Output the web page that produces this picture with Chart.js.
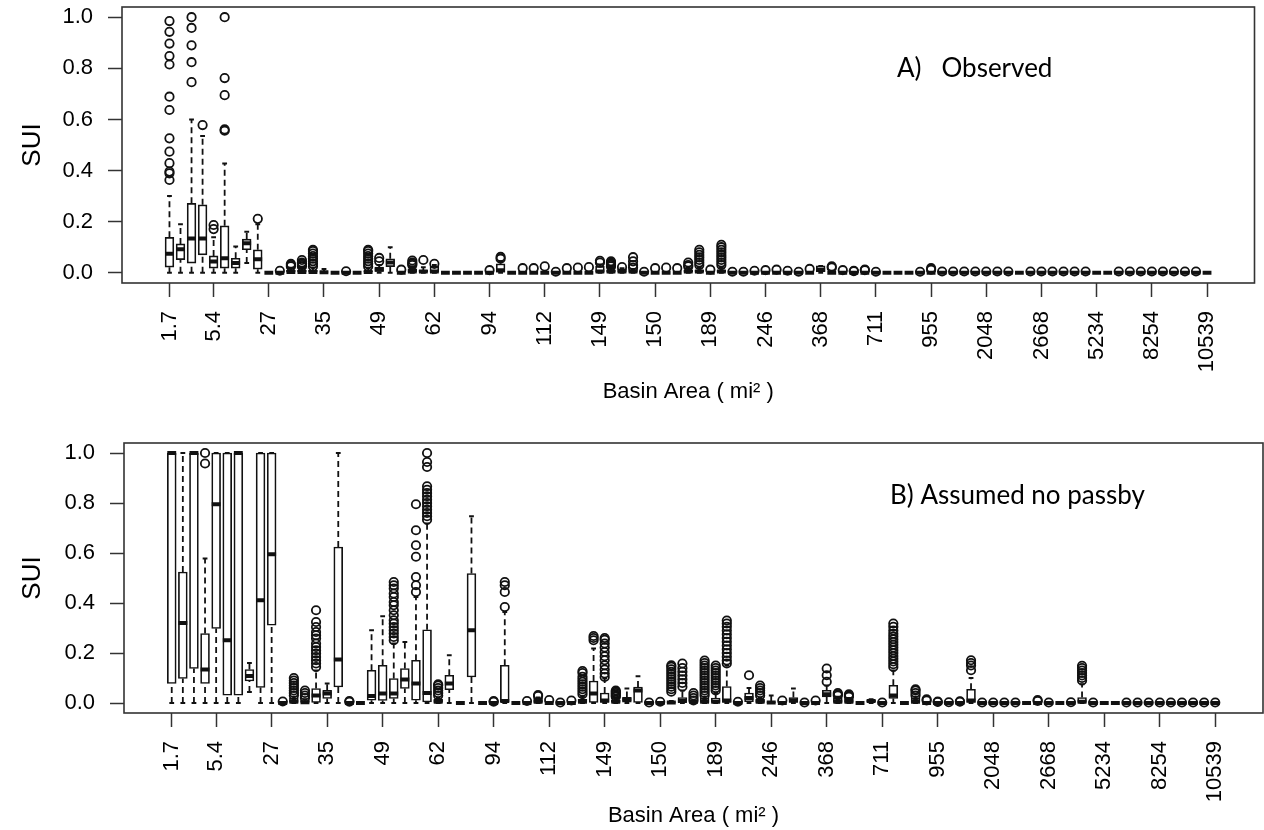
<!DOCTYPE html>
<html>
<head>
<meta charset="utf-8">
<script src="https://cdn.jsdelivr.net/npm/chart.js@4.4.1/dist/chart.umd.min.js"></script>
<style>
  body { margin: 0; background: #fff; width: 1264px; height: 830px; overflow: hidden; }
  .panel { position: absolute; left: 0; width: 1264px; height: 415px; }
</style>
</head>
<body>
<div class="panel" style="top:0"><canvas id="obsChart"></canvas></div>
<div class="panel" style="top:415px"><canvas id="npChart"></canvas></div>
<script>
// basin positions that get a label on the x axis
const xTickPos = [1, 5, 10, 15, 20, 25, 30, 35, 40, 45, 50, 55, 60, 65, 70, 75, 80, 85, 90, 95];
const xTickLabels = ["1.7", "5.4", "27", "35", "49", "62", "94", "112", "149", "150",
  "189", "246", "368", "711", "955", "2048", "2668", "5234", "8254", "10539"];
const yTickVals = [0, 0.2, 0.4, 0.6, 0.8, 1.0];

// A) Observed -- 95 basins, box stats
const obsLo = [
  0, 0, 0, 0, 0, 0, 0, 0.038, 0, 0,
  0, 0, 0, 0, 0, 0, 0, 0, 0, 0,
  0, 0, 0, 0, 0, 0, 0, 0, 0, 0,
  0, 0, 0, 0, 0, 0, 0, 0, 0, 0,
  0, 0, 0, 0, 0, 0, 0, 0, 0, 0,
  0, 0, 0, 0, 0, 0, 0, 0, 0, 0,
  0, 0, 0, 0, 0, 0, 0, 0, 0, 0,
  0, 0, 0, 0, 0, 0, 0, 0, 0, 0,
  0, 0, 0, 0, 0, 0, 0, 0, 0, 0,
  0, 0, 0, 0, 0];
const obsQ1 = [
  0.022, 0.051, 0.038, 0.07, 0.018, 0.018, 0.018, 0.09, 0.014, 0,
  0, 0, 0, 0, 0, 0, 0, 0, 0, 0.005,
  0.024, 0, 0, 0, 0, 0, 0, 0, 0, 0,
  0, 0, 0, 0, 0, 0, 0, 0, 0, 0,
  0, 0, 0, 0, 0, 0, 0, 0, 0, 0,
  0, 0, 0, 0, 0, 0, 0, 0, 0, 0.004,
  0, 0, 0, 0, 0, 0, 0, 0, 0, 0,
  0, 0, 0, 0, 0, 0, 0, 0, 0, 0,
  0, 0, 0, 0, 0, 0, 0, 0, 0, 0,
  0, 0, 0, 0, 0];
const obsMed = [
  0.074, 0.092, 0.134, 0.134, 0.044, 0.057, 0.038, 0.116, 0.053, 0,
  0, 0.003, 0.003, 0.003, 0.002, 0, 0, 0, 0.003, 0.012,
  0.04, 0, 0.005, 0.005, 0.005, 0, 0, 0, 0, 0,
  0.01, 0, 0, 0, 0, 0, 0, 0, 0, 0.005,
  0.005, 0.005, 0.005, 0, 0, 0, 0, 0.005, 0.005, 0,
  0.005, 0, 0, 0, 0, 0, 0, 0, 0, 0.012,
  0, 0, 0, 0, 0, 0, 0, 0, 0, 0,
  0, 0, 0, 0, 0, 0, 0, 0, 0, 0,
  0, 0, 0, 0, 0, 0, 0, 0, 0, 0,
  0, 0, 0, 0, 0];
const obsQ3 = [
  0.139, 0.113, 0.272, 0.266, 0.066, 0.184, 0.057, 0.132, 0.09, 0,
  0, 0.01, 0.01, 0.01, 0.004, 0, 0, 0, 0.008, 0.022,
  0.055, 0, 0.015, 0.01, 0.025, 0, 0, 0, 0, 0,
  0.035, 0, 0, 0, 0, 0, 0, 0, 0, 0.025,
  0.01, 0.015, 0.012, 0, 0, 0, 0, 0.01, 0.01, 0,
  0.01, 0, 0, 0, 0, 0, 0, 0, 0, 0.027,
  0, 0, 0, 0, 0, 0, 0, 0, 0, 0,
  0, 0, 0, 0, 0, 0, 0, 0, 0, 0,
  0, 0, 0, 0, 0, 0, 0, 0, 0, 0,
  0, 0, 0, 0, 0];
const obsHi = [
  0.30, 0.19, 0.60, 0.535, 0.139, 0.428, 0.103, 0.161, 0.19, 0,
  0, 0.02, 0.02, 0.02, 0.015, 0, 0, 0, 0.018, 0.03,
  0.10, 0, 0.025, 0.022, 0.03, 0, 0, 0, 0, 0,
  0.045, 0, 0, 0, 0, 0, 0, 0, 0, 0.032,
  0.02, 0.018, 0.015, 0, 0, 0, 0, 0.02, 0.02, 0,
  0.02, 0, 0, 0, 0, 0, 0, 0, 0, 0.027,
  0, 0, 0, 0, 0, 0, 0, 0, 0, 0,
  0, 0, 0, 0, 0, 0, 0, 0, 0, 0,
  0, 0, 0, 0, 0, 0, 0, 0, 0, 0,
  0, 0, 0, 0, 0];
const obsOut = [
  [0.985, 0.943, 0.897, 0.848, 0.815, 0.689, 0.637, 0.526, 0.474, 0.429, 0.396, 0.389, 0.363], // 1
  [], [1.0, 0.958, 0.89, 0.824, 0.746], [0.578], [0.171, 0.187],
  [1.0, 0.762, 0.695, 0.561, 0.556], [], [], [0.211], [],                    // 6-10
  [0.008], [0.025, 0.03, 0.035], [0.025, 0.03, 0.035, 0.04, 0.05],
  [0.025, 0.035, 0.045, 0.055, 0.065, 0.075, 0.085, 0.09], [], [], [0.006], [],
  [0.025, 0.035, 0.045, 0.055, 0.065, 0.075, 0.085, 0.09], [0.045, 0.058],  // 19-20
  [], [0.012], [0.03, 0.035, 0.04, 0.048], [0.05], [0.035], [], [], [], [], [0.01], // 21-30
  [0.055, 0.062], [], [0.018], [0.018], [0.025], [0.004], [0.018], [0.02], [0.022],
  [0.04, 0.047],                                                             // 40
  [0.025, 0.03, 0.035, 0.04, 0.045], [0.022], [0.02, 0.03, 0.045, 0.061], [0.004],
  [0.018], [0.02], [0.018], [0.025, 0.03, 0.04],
  [0.03, 0.04, 0.05, 0.06, 0.07, 0.08, 0.09], [0.012],                       // 49-50
  [0.03, 0.04, 0.05, 0.06, 0.07, 0.08, 0.09, 0.1, 0.109], [0.004], [0.004], [0.008],
  [0.01], [0.012], [0.008], [0.004], [0.015], [],                            // 51-60
  [0.02, 0.025], [0.01], [0.006, 0.008], [0.01, 0.012], [0.004], [], [], [], [0.004],
  [0.012, 0.018],                                                            // 61-70
  [0.005], [0.005], [0.005], [0.005], [0.005], [0.005], [0.005], [], [0.005], [0.005],
  [0.005], [0.005], [0.005], [0.005], [], [], [0.005], [0.005], [0.005], [0.005],
  [0.005], [0.005], [0.005], [0.005], []                                     // 91-95
];

// B) Assumed no passby
const npLo = [
  0, 0, 0, 0, 0, 0, 0, 0.044, 0, 0,
  0, 0, 0, 0, 0, 0, 0, 0, 0, 0,
  0, 0, 0, 0, 0, 0, 0, 0, 0, 0,
  0, 0, 0, 0, 0, 0, 0, 0, 0, 0,
  0, 0, 0, 0, 0, 0, 0, 0, 0, 0,
  0, 0, 0, 0, 0, 0, 0, 0, 0, 0,
  0, 0, 0, 0, 0, 0, 0, 0, 0, 0,
  0, 0, 0, 0, 0, 0, 0, 0, 0, 0,
  0, 0, 0, 0, 0, 0, 0, 0, 0, 0,
  0, 0, 0, 0, 0];
const npQ1 = [
  0.078, 0.098, 0.138, 0.078, 0.298, 0.031, 0.031, 0.088, 0.062, 0.311,
  0, 0, 0, 0, 0.018, 0.064, 0, 0, 0.011, 0.01,
  0.018, 0.058, 0.011, 0.004, 0, 0.053, 0, 0.104, 0, 0,
  0.004, 0, 0, 0, 0, 0, 0, 0, 0, 0,
  0, 0.003, 0, 0, 0, 0, 0, 0, 0, 0,
  0, 0, 0.005, 0, 0, 0, 0, 0, 0, 0.024,
  0, 0, 0, 0.005, 0, 0.018, 0, 0, 0, 0,
  0, 0, 0, 0, 0, 0, 0, 0, 0, 0,
  0, 0, 0, 0, 0, 0, 0, 0, 0, 0,
  0, 0, 0, 0, 0];
const npMed = [
  1.0, 0.32, 1.0, 0.134, 0.795, 0.251, 1.0, 0.108, 0.411, 0.595,
  0, 0.005, 0.003, 0.03, 0.038, 0.174, 0, 0, 0.028, 0.038,
  0.038, 0.094, 0.078, 0.04, 0.005, 0.078, 0, 0.291, 0, 0,
  0.008, 0, 0, 0.005, 0, 0, 0, 0.005, 0.038, 0.01,
  0.005, 0.016, 0.05, 0, 0, 0.002, 0.008, 0.005, 0.005, 0.005,
  0.01, 0, 0.02, 0.005, 0.002, 0, 0.01, 0, 0, 0.035,
  0.005, 0.005, 0, 0.008, 0, 0.03, 0, 0.005, 0, 0,
  0, 0, 0.01, 0, 0, 0, 0, 0, 0, 0,
  0, 0, 0.005, 0, 0, 0, 0, 0, 0, 0,
  0, 0, 0, 0, 0];
const npQ3 = [
  1.0, 0.524, 1.0, 0.278, 1.0, 1.0, 1.0, 0.134, 1.0, 1.0,
  0, 0.02, 0.01, 0.058, 0.051, 0.624, 0, 0, 0.131, 0.151,
  0.098, 0.138, 0.171, 0.293, 0.015, 0.111, 0, 0.518, 0, 0,
  0.151, 0, 0, 0.02, 0, 0, 0, 0.015, 0.088, 0.04,
  0.012, 0.022, 0.064, 0, 0, 0.005, 0.022, 0.01, 0.02, 0.02,
  0.066, 0, 0.04, 0.015, 0.005, 0, 0.022, 0, 0, 0.051,
  0.02, 0.015, 0, 0.012, 0, 0.071, 0, 0.02, 0, 0,
  0, 0, 0.055, 0, 0, 0, 0, 0, 0, 0,
  0, 0, 0.022, 0, 0, 0, 0, 0, 0, 0,
  0, 0, 0, 0, 0];
const npHi = [
  1.0, 1.0, 1.0, 0.578, 1.0, 1.0, 1.0, 0.16, 1.0, 1.0,
  0, 0.025, 0.015, 0.13, 0.078, 1.0, 0, 0, 0.291, 0.347,
  0.238, 0.244, 0.424, 0.718, 0.02, 0.191, 0, 0.747, 0, 0,
  0.364, 0, 0, 0.022, 0, 0, 0, 0.025, 0.218, 0.098,
  0.02, 0.058, 0.107, 0, 0, 0.008, 0.05, 0.008, 0.025, 0.04,
  0.15, 0, 0.06, 0.02, 0.03, 0, 0.058, 0, 0, 0.07,
  0.025, 0.02, 0, 0.015, 0, 0.13, 0, 0.025, 0, 0,
  0, 0, 0.1, 0, 0, 0, 0, 0, 0, 0,
  0, 0, 0.075, 0, 0, 0, 0, 0, 0, 0,
  0, 0, 0, 0, 0];
const npOut = [
  [], [], [], [0.958, 1.0], [], [], [], [], [], [],                          // 1-10
  [0.006], [0.03, 0.04, 0.05, 0.06, 0.07, 0.08, 0.09, 0.1], [0.02, 0.03, 0.04, 0.05],
  [0.144, 0.158, 0.171, 0.184, 0.198, 0.211, 0.224, 0.238, 0.258, 0.271, 0.284, 0.304, 0.324, 0.371],
  [], [], [0.005, 0.008], [], [], [],                                        // 15-20
  [0.251, 0.264, 0.278, 0.291, 0.304, 0.318, 0.331, 0.351, 0.371, 0.391, 0.404, 0.424, 0.438, 0.458, 0.471, 0.484],
  [], [0.444, 0.471, 0.504, 0.585, 0.631, 0.691, 0.795],
  [0.733, 0.747, 0.76, 0.773, 0.787, 0.8, 0.813, 0.827, 0.84, 0.853, 0.867, 0.944, 0.964, 1.0],
  [0.03, 0.04, 0.05, 0.06, 0.07, 0.075], [], [], [], [], [0.005, 0.008],     // 25-30
  [0.384, 0.444, 0.471, 0.484], [], [0.008], [0.028, 0.032], [0.012], [0.002], [0.01],
  [0.035, 0.045, 0.055, 0.065, 0.075, 0.085, 0.095, 0.105, 0.12, 0.128],
  [0.251, 0.26, 0.268],
  [0.104, 0.118, 0.134, 0.151, 0.171, 0.187, 0.204, 0.222, 0.238, 0.253, 0.26], // 40
  [0.025, 0.03, 0.035, 0.04, 0.045, 0.05], [], [], [0.002], [0.005],
  [0.045, 0.055, 0.065, 0.075, 0.085, 0.095, 0.105, 0.115, 0.125, 0.135, 0.145, 0.151],
  [0.065, 0.08, 0.095, 0.11, 0.125, 0.14, 0.158], [0.01, 0.02, 0.03, 0.04],
  [0.03, 0.04, 0.05, 0.06, 0.07, 0.08, 0.09, 0.1, 0.11, 0.12, 0.13, 0.14, 0.15, 0.16, 0.17],
  [0.05, 0.06, 0.07, 0.08, 0.09, 0.1, 0.11, 0.12, 0.13, 0.14, 0.15],        // 50
  [0.158, 0.17, 0.185, 0.2, 0.215, 0.23, 0.245, 0.26, 0.275, 0.29, 0.305, 0.318, 0.33],
  [0.005], [0.111], [0.03, 0.04, 0.05, 0.06, 0.07], [], [0.01], [], [0.002], [0.01],
  [0.085, 0.111, 0.138],                                                     // 60
  [0.03, 0.035, 0.04], [0.025, 0.03, 0.035], [], [], [0.002],
  [0.144, 0.155, 0.166, 0.177, 0.188, 0.2, 0.211, 0.222, 0.233, 0.244, 0.255, 0.266, 0.277, 0.29, 0.305, 0.318],
  [], [0.03, 0.04, 0.05, 0.055], [0.01, 0.015], [0.004, 0.006],              // 67-70
  [0.003], [0.005, 0.007], [0.131, 0.15, 0.16, 0.171], [0.002], [0.002], [0.002],
  [0.002], [], [0.008, 0.012], [0.002],                                      // 71-80
  [], [0.003], [0.09, 0.1, 0.11, 0.12, 0.13, 0.14, 0.149], [0.002], [], [],
  [0.002], [0.002], [0.002], [0.002],                                        // 81-90
  [0.002], [0.002], [0.002], [0.002], [0.002]                                // 91-95
];

const INK = "#111";
const tickFont = { family: "'Liberation Sans', Arial, sans-serif", size: 22 };

function boxDatasets(lo, q1, med, q3, hi, out, boxW) {
  const boxes = [], meds = [], caps = [], whisk = [], pts = [];
  med.forEach((m, k) => {
    const x = k + 1;
    boxes.push({ x: x, y: [q1[k], q3[k]] });
    meds.push({ x: x, y: m });
    caps.push({ x: x, y: hi[k] }, { x: x, y: lo[k] });
    if (hi[k] > q3[k]) whisk.push({ x: x, y: q3[k] }, { x: x, y: hi[k] }, { x: x, y: null });
    if (lo[k] < q1[k]) whisk.push({ x: x, y: lo[k] }, { x: x, y: q1[k] }, { x: x, y: null });
    out[k].forEach((v) => pts.push({ x: x, y: v }));
  });
  return [
    { type: "line", data: whisk, borderColor: INK, borderWidth: 1.8, borderDash: [6, 4],
      pointRadius: 0, spanGaps: false, order: 5 },
    { type: "bar", data: boxes, backgroundColor: "#fff", borderColor: INK, borderWidth: 1.7,
      borderSkipped: false, barThickness: boxW, order: 4 },
    { type: "scatter", data: caps, pointStyle: "line", pointRadius: 2.4, borderWidth: 2,
      borderColor: INK, order: 3 },
    { type: "scatter", data: meds, pointStyle: "line", pointRadius: boxW / 2, borderWidth: 4,
      borderColor: INK, order: 2 },
    { type: "scatter", data: pts, pointStyle: "circle", pointRadius: 4.2, borderWidth: 1.8,
      borderColor: INK, backgroundColor: "rgba(0,0,0,0)", order: 1 },
  ];
}

const framePlugin = {
  id: "frame",
  afterDraw(chart) {
    const { ctx, chartArea: a } = chart;
    ctx.save();
    ctx.strokeStyle = "#333";
    ctx.lineWidth = 1.6;
    ctx.strokeRect(a.left, a.top, a.right - a.left, a.bottom - a.top);
    const note = chart.options.plugins.note;
    ctx.fillStyle = "#000";
    ctx.font = "26px Lato, 'Open Sans', sans-serif";
    ctx.textBaseline = "alphabetic";
    ctx.fillText(note.text, note.x, note.y);
    ctx.restore();
  },
};

function makePanel(canvasId, sets, layout, note) {
  return new Chart(document.getElementById(canvasId), {
    type: "bar",
    data: { datasets: sets },
    plugins: [framePlugin],
    options: {
      responsive: true,
      maintainAspectRatio: false,
      animation: false,
      events: [],
      layout: { autoPadding: false, padding: { top: layout.top, right: layout.right, left: 0, bottom: 0 } },
      plugins: { legend: { display: false }, tooltip: { enabled: false }, note: note },
      scales: {
        x: {
          type: "linear",
          min: -3.3,
          max: 99.3,
          offset: false,
          afterBuildTicks: (s) => { s.ticks = xTickPos.map((v) => ({ value: v })); },
          afterFit: (s) => {
            s.height = layout.xAxisH;
            s.paddingLeft = 0;
            s.paddingRight = 0;
          },
          ticks: {
            autoSkip: false, minRotation: 90, maxRotation: 90, padding: 14,
            color: "#000", font: tickFont,
            callback: (v) => xTickLabels[xTickPos.indexOf(v)],
          },
          grid: { offset: false, drawOnChartArea: false, drawTicks: true, tickLength: 14, tickWidth: 1.5, tickColor: "#333" },
          border: { display: false },
          title: {
            display: true, text: "Basin Area ( mi² )", color: "#000",
            font: { family: "'Liberation Sans', Arial, sans-serif", size: 22 },
            padding: { top: 0, bottom: layout.titlePad },
          },
        },
        y: {
          min: -0.04,
          max: 1.04,
          afterBuildTicks: (s) => { s.ticks = yTickVals.map((v) => ({ value: v })); },
          afterFit: (s) => {
            s.width = layout.yAxisW;
            s.paddingTop = 0;
            s.paddingBottom = 0;
          },
          ticks: { padding: 15, color: "#000", font: tickFont, callback: (v) => v.toFixed(1) },
          grid: { drawOnChartArea: false, drawTicks: true, tickLength: 14, tickWidth: 1.5, tickColor: "#333" },
          border: { display: false },
          title: {
            display: true, text: "SUI", color: "#000",
            font: { family: "'Liberation Sans', Arial, sans-serif", size: 26 },
            padding: { top: 17, bottom: 0 },
          },
        },
      },
    },
  });
}

makePanel("obsChart",
  boxDatasets(obsLo, obsQ1, obsMed, obsQ3, obsHi, obsOut, 8.8),
  { top: 7, right: 9.5, xAxisH: 132, yAxisW: 122, titlePad: 10 },
  { text: "A)   Observed", x: 897, y: 77 });

makePanel("npChart",
  boxDatasets(npLo, npQ1, npMed, npQ3, npHi, npOut, 8.9),
  { top: 28, right: 1, xAxisH: 117, yAxisW: 124, titlePad: 1 },
  { text: "B) Assumed no passby", x: 890, y: 89 });
</script>
</body>
</html>
